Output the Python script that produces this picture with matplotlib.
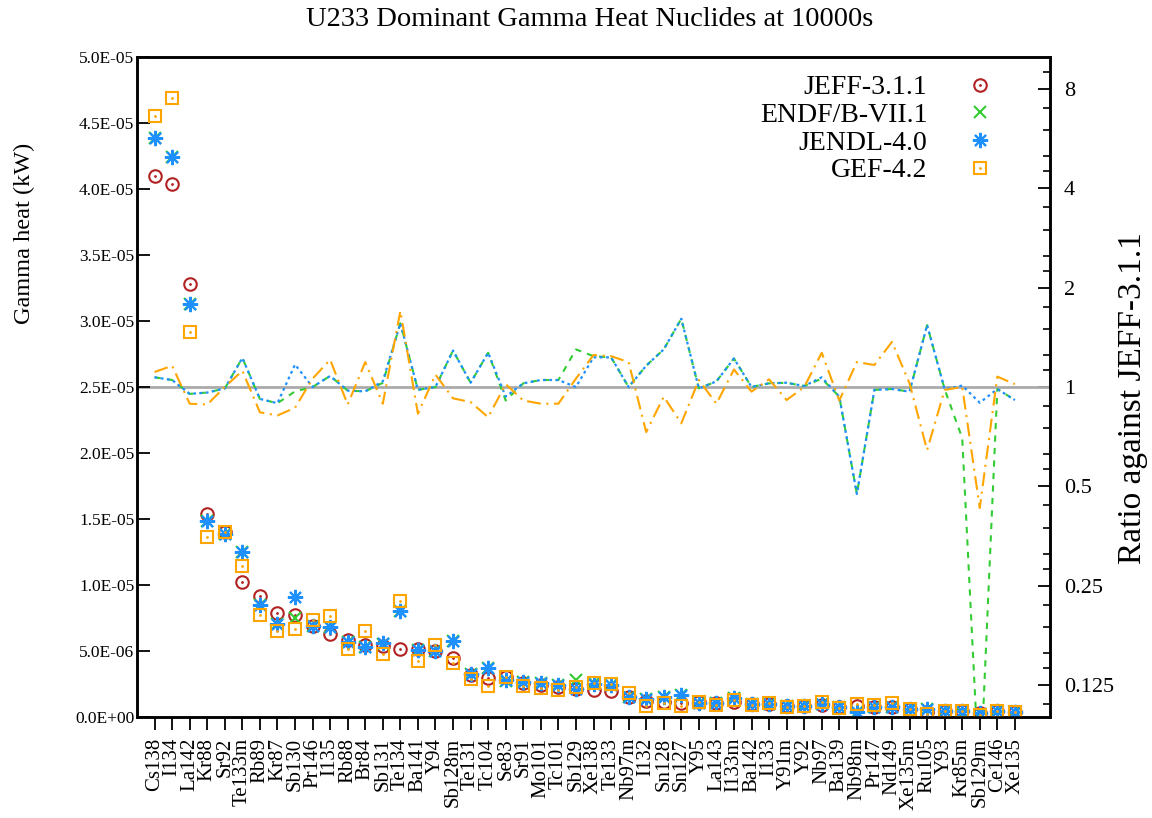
import numpy as np
import matplotlib
matplotlib.use("Agg")
import matplotlib.pyplot as plt
from matplotlib.ticker import FuncFormatter, FixedLocator, NullFormatter
from matplotlib.legend_handler import HandlerTuple

plt.rcParams['font.family'] = ['Liberation Serif', 'DejaVu Serif']
plt.rcParams['lines.scale_dashes'] = False

nuclides = ['Cs138', 'I134', 'La142', 'Kr88', 'Sr92', 'Te133m', 'Rb89', 'Kr87', 'Sb130', 'Pr146',
            'I135', 'Rb88', 'Br84', 'Sb131', 'Te134', 'Ba141', 'Y94', 'Sb128m', 'Te131', 'Tc104',
            'Se83', 'Sr91', 'Mo101', 'Tc101', 'Sb129', 'Xe138', 'Te133', 'Nb97m', 'I132', 'Sn128',
            'Sn127', 'Y95', 'La143', 'I133m', 'Ba142', 'I133', 'Y91m', 'Y92', 'Nb97', 'Ba139',
            'Nb98m', 'Pr147', 'Nd149', 'Xe135m', 'Ru105', 'Y93', 'Kr85m', 'Sb129m', 'Ce146', 'Xe135']

# JEFF-3.1.1 gamma heat, units of 1E-05 kW
jeff_heat = [4.10, 4.04, 3.28, 1.54, 1.40, 1.02, 0.92, 0.79, 0.775, 0.69,
             0.63, 0.583, 0.548, 0.54, 0.517, 0.515, 0.50, 0.445, 0.318, 0.293,
             0.30, 0.255, 0.243, 0.23, 0.215, 0.205, 0.20, 0.154, 0.118, 0.115,
             0.105, 0.11, 0.105, 0.116, 0.097, 0.097, 0.083, 0.083, 0.09, 0.078,
             0.08, 0.078, 0.078, 0.06, 0.04, 0.045, 0.045, 0.033, 0.045, 0.04]

# ratios against JEFF-3.1.1
ratio_endf = [1.07, 1.05, 0.953, 0.962, 0.99, 1.225, 0.92, 0.893, 0.97, 1.0,
              1.08, 0.975, 0.97, 1.03, 1.56, 0.98, 1.0, 1.29, 1.03, 1.27,
              0.91, 1.026, 1.05, 1.05, 1.30, 1.24, 1.23, 1.0, 1.16, 1.30,
              1.61, 0.99, 1.04, 1.22, 1.0, 1.026, 1.03, 1.007, 1.06, 0.935,
              0.474, 0.98, 0.986, 0.968, 1.54, 0.984, 0.70, 0.06, 0.986, 0.913]
ratio_jendl = [1.07, 1.05, 0.953, 0.962, 0.99, 1.225, 0.92, 0.893, 1.17, 1.0,
               1.08, 0.975, 0.97, 1.04, 1.56, 0.98, 1.0, 1.29, 1.03, 1.27,
               0.935, 1.026, 1.05, 1.05, 1.0, 1.23, 1.23, 1.0, 1.16, 1.30,
               1.61, 0.99, 1.04, 1.22, 1.0, 1.026, 1.03, 1.007, 1.07, 0.935,
               0.474, 0.98, 0.986, 0.968, 1.54, 0.984, 1.01, 0.896, 0.986, 0.913]
ratio_gef = [1.11, 1.16, 0.89, 0.885, 1.0, 1.12, 0.838, 0.82, 0.865, 1.06,
             1.21, 0.885, 1.19, 0.89, 1.70, 0.83, 1.09, 0.924, 0.90, 0.81,
             1.02, 0.91, 0.89, 0.89, 1.06, 1.25, 1.24, 1.19, 0.73, 0.935,
             0.776, 1.05, 0.89, 1.13, 0.968, 1.055, 0.913, 1.0, 1.27, 0.91,
             1.19, 1.166, 1.37, 1.026, 0.644, 0.98, 1.0, 0.43, 1.075, 1.02]

ratio_ticks = [0.125, 0.25, 0.5, 1, 2, 4, 8]
ratio_ticklabels = ['0.125', '0.25', '0.5', '1', '2', '4', '8']

red = '#B22222'
green = '#33CC33'
blue = '#1E90FF'
orange = '#FFA500'

x = np.arange(len(nuclides))
jeff = np.array(jeff_heat) * 1e-5
endf = jeff * np.array(ratio_endf)
jendl = jeff * np.array(ratio_jendl)
gef = jeff * np.array(ratio_gef)

fig = plt.figure(figsize=(11.52, 8.18), dpi=100)
ax = fig.add_axes([137/1152, 1-717/818, 913/1152, 660/818])
ax2 = ax.twinx()
ax.set_zorder(ax2.get_zorder() + 1)
ax.patch.set_visible(False)

# ratio lines on the right axis
ax2.set_yscale('log')
ax2.axhline(1, color='#aaaaaa', lw=2)
ax2.plot(x, ratio_endf, color=green, ls=(0, (4.5, 4.5)), lw=1.5)
ax2.plot(x, ratio_jendl, color=blue, ls=(0, (2, 2.5)), lw=1.6)
ax2.plot(x, ratio_gef, color=orange, ls=(0, (10, 4, 1.5, 4)), lw=1.5)
ax2.set_ylim(0.1, 10)
ax2.set_yticks(ratio_ticks)
ax2.set_yticklabels(ratio_ticklabels)
minors = []
for a in [0.0625, 0.125, 0.25, 0.5, 1, 2, 4, 8]:
    for f in [1.125, 1.25, 1.5, 1.75]:
        if 0.1 < a * f < 10:
            minors.append(a * f)
ax2.yaxis.set_minor_locator(FixedLocator(minors))
ax2.yaxis.set_minor_formatter(NullFormatter())
ax2.tick_params(axis='y', which='major', direction='in', length=9, width=1.3, labelsize=16, pad=10)
ax2.tick_params(axis='y', which='minor', direction='in', length=5, width=1.2)
ax2.set_ylabel('Ratio against JEFF-3.1.1', fontsize=24)
ax2.yaxis.set_label_coords((1117 - 137) / 913, (717 - 398) / 660)

# heat markers on the left axis
h1 = ax.plot(x, jeff, ls='none', marker='o', ms=9, mfc='none', mec=red, mew=1.5)[0]
h1b = ax.plot(x, jeff, ls='none', marker='.', ms=2, color=red)[0]
h2 = ax.plot(x, endf, ls='none', marker='x', ms=9, mew=1.5, color=green)[0]
h3 = ax.plot(x, jendl, ls='none', marker=(8, 2, 0), ms=11, mew=1.5, color=blue)[0]
h4 = ax.plot(x, gef, ls='none', marker='s', ms=9, mfc='none', mec=orange, mew=1.5)[0]
h4b = ax.plot(x, gef, ls='none', marker='.', ms=2, color=orange)[0]

ax.set_xlim(-1, 51)
ax.set_ylim(0, 5e-5)
ax.set_yticks(np.arange(0, 5.01e-5, 0.5e-5))
ax.yaxis.set_major_formatter(FuncFormatter(lambda v, p: f'{v:.1E}'))
ax.set_xticks(x)
ax.set_xticklabels(nuclides, rotation=90, fontsize=15)
ax.tick_params(axis='y', direction='in', length=9, width=1.3, labelsize=12.5, pad=2, right=False)
ax.tick_params(axis='x', direction='out', length=9, width=1.3, pad=6, top=False)
ax.set_ylabel('Gamma heat (kW)', fontsize=17.5)
ax.yaxis.set_label_coords((35 - 137) / 913, (717 - 233) / 660)
for sp in list(ax.spines.values()) + list(ax2.spines.values()):
    sp.set_linewidth(1.8)

fig.text(590/1152, 1 - 20/818, 'U233 Dominant Gamma Heat Nuclides at 10000s',
         ha='center', va='center', fontsize=20.5)

leg = ax.legend([(h1, h1b), h2, h3, (h4, h4b)],
                ['JEFF-3.1.1', 'ENDF/B-VII.1', 'JENDL-4.0', 'GEF-4.2'],
                handler_map={tuple: HandlerTuple(ndivide=1)},
                loc='upper right', bbox_to_anchor=(1022/1152, 1 - 61/818),
                bbox_transform=fig.transFigure, frameon=False, markerfirst=False,
                fontsize=20, handlelength=2.0, handletextpad=0.9,
                labelspacing=0.08, borderpad=0, numpoints=1)

fig.savefig('out.png', dpi=100)
